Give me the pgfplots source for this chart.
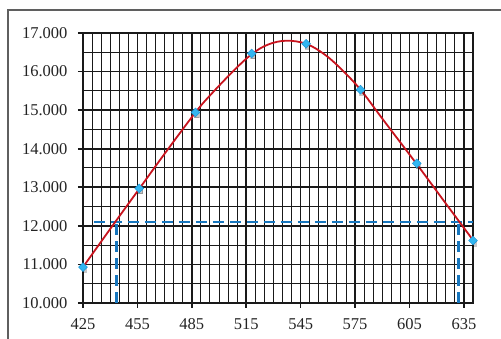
\documentclass[border=0pt]{standalone}
\usepackage{pgfplots}
\pgfplotsset{compat=1.18}
\usepackage{fontspec}
\setmainfont{Liberation Serif}
\definecolor{gridc}{RGB}{25,25,25}
\definecolor{framec}{RGB}{95,95,95}
\definecolor{dashc}{RGB}{22,118,190}
\definecolor{curvec}{RGB}{200,20,30}
\definecolor{markc}{RGB}{50,182,240}
\definecolor{markd}{RGB}{30,150,215}
\definecolor{textc}{RGB}{35,35,35}
\begin{document}
\begin{tikzpicture}[x=1pt,y=1pt]
\path[use as bounding box] (0,0) rectangle (501,339);
\draw[line width=1.5pt, framec] (8,-20) -- (8,329) -- (530,329);
\begin{axis}[
  at={(83pt,36pt)}, anchor=south west,
  scale only axis, width=390pt, height=270pt,
  xmin=425, xmax=640, ymin=10, ymax=17,
  xtick={425,455,...,635}, ytick={10,11,...,17},
  minor xtick={425,430,...,640}, minor ytick={10,10.5,...,17},
  grid=both,
  major grid style={gridc, line width=1.6pt},
  minor grid style={gridc, line width=1pt},
  axis line style={gridc, line width=1.6pt},
  tick align=outside, major tick length=5pt, minor tick length=0pt,
  xtick pos=left, ytick pos=left,
  tick style={gridc, line width=1.6pt},
  /pgf/number format/assume math mode=true,
  ticklabel style={font=\fontsize{16.5}{18}\selectfont, text=textc},
  xticklabel style={/pgf/number format/1000 sep={}, yshift=-7pt},
  yticklabel style={/pgf/number format/fixed, /pgf/number format/fixed zerofill, /pgf/number format/precision=3, xshift=-7pt},
  clip=false,
]
\addplot[dashc, line width=2.5pt, dash pattern=on 11pt off 6pt] coordinates {(431,12.1) (640,12.1)};
\addplot[dashc, line width=2.5pt, dash pattern=on 11pt off 6pt] coordinates {(443.6,10) (443.6,12.1)};
\addplot[dashc, line width=2.5pt, dash pattern=on 11pt off 6pt] coordinates {(632,10) (632,12.1)};
\addplot[curvec, line width=1.8pt, smooth, tension=0.6] coordinates {
(425,10.93) (440,11.92) (456,12.96) (470,13.87) (487,14.94) (495,15.38) (508,16.02) (518,16.45)
(527,16.70) (537,16.80) (548,16.72) (558,16.45) (567,16.08) (578,15.53) (590,14.78) (609,13.60)
(625,12.58) (640,11.63)};
\addplot[only marks, mark=square*, mark size=2.2pt, mark options={fill=black, draw=none, opacity=0.22, xshift=1.2pt, yshift=-3pt}] coordinates {
(425,10.93) (456,12.97) (487,14.94) (518,16.47) (548,16.72) (578,15.53) (609,13.62) (640,11.62)};
\addplot[only marks, mark=square*, mark size=3.1pt, mark options={rotate=45, fill=markc, draw=markd, line width=0.5pt}] coordinates {
(425,10.93) (456,12.97) (487,14.94) (518,16.47) (548,16.72) (578,15.53) (609,13.62) (640,11.62)};
\end{axis}
\end{tikzpicture}
\end{document}
